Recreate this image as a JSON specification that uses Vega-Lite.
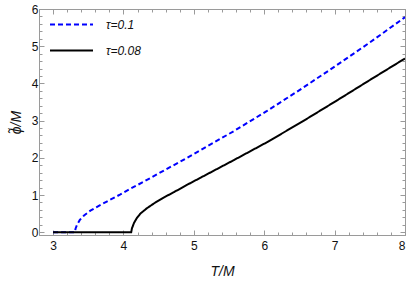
{
  "$schema": "https://vega.github.io/schema/vega-lite/v6.json",
  "width": 366,
  "height": 226,
  "autosize": {"type": "none"},
  "padding": {"left": 39, "top": 9, "right": 4, "bottom": 48},
  "config": {
    "view": {"stroke": "#9a9a9a", "strokeWidth": 1},
    "font": "Liberation Sans",
    "axis": {"domainColor": "#9a9a9a", "tickColor": "#9a9a9a", "labelColor": "#111", "labelFont": "Liberation Sans", "labelFontSize": 12, "grid": false, "labelOverlap": false, "titleFont": "Liberation Sans", "titleFontWeight": "normal", "titleFontStyle": "italic", "titleFontSize": 14, "titleColor": "#111"}
  },
  "data": {"values": [
    {"T": 3.0, "phi": 0, "s": "τ=0.1"},
    {"T": 3.31, "phi": 0, "s": "τ=0.1"},
    {"T": 3.32, "phi": 0.1, "s": "τ=0.1"},
    {"T": 3.34, "phi": 0.2, "s": "τ=0.1"},
    {"T": 3.38, "phi": 0.33, "s": "τ=0.1"},
    {"T": 3.44, "phi": 0.45, "s": "τ=0.1"},
    {"T": 3.53, "phi": 0.58, "s": "τ=0.1"},
    {"T": 3.65, "phi": 0.71, "s": "τ=0.1"},
    {"T": 3.77, "phi": 0.83, "s": "τ=0.1"},
    {"T": 3.95, "phi": 1.01, "s": "τ=0.1"},
    {"T": 4.1, "phi": 1.17, "s": "τ=0.1"},
    {"T": 4.3, "phi": 1.37, "s": "τ=0.1"},
    {"T": 4.48, "phi": 1.56, "s": "τ=0.1"},
    {"T": 4.81, "phi": 1.9, "s": "τ=0.1"},
    {"T": 5.1, "phi": 2.21, "s": "τ=0.1"},
    {"T": 5.57, "phi": 2.72, "s": "τ=0.1"},
    {"T": 6.04, "phi": 3.26, "s": "τ=0.1"},
    {"T": 6.5, "phi": 3.82, "s": "τ=0.1"},
    {"T": 7.0, "phi": 4.45, "s": "τ=0.1"},
    {"T": 7.5, "phi": 5.1, "s": "τ=0.1"},
    {"T": 8.0, "phi": 5.78, "s": "τ=0.1"},
    {"T": 3.0, "phi": 0, "s": "τ=0.08"},
    {"T": 4.11, "phi": 0, "s": "τ=0.08"},
    {"T": 4.12, "phi": 0.1, "s": "τ=0.08"},
    {"T": 4.15, "phi": 0.25, "s": "τ=0.08"},
    {"T": 4.19, "phi": 0.38, "s": "τ=0.08"},
    {"T": 4.24, "phi": 0.5, "s": "τ=0.08"},
    {"T": 4.33, "phi": 0.64, "s": "τ=0.08"},
    {"T": 4.43, "phi": 0.77, "s": "τ=0.08"},
    {"T": 4.57, "phi": 0.93, "s": "τ=0.08"},
    {"T": 4.72, "phi": 1.08, "s": "τ=0.08"},
    {"T": 4.9, "phi": 1.27, "s": "τ=0.08"},
    {"T": 5.1, "phi": 1.47, "s": "τ=0.08"},
    {"T": 5.57, "phi": 1.94, "s": "τ=0.08"},
    {"T": 6.04, "phi": 2.42, "s": "τ=0.08"},
    {"T": 6.52, "phi": 2.95, "s": "τ=0.08"},
    {"T": 7.04, "phi": 3.55, "s": "τ=0.08"},
    {"T": 7.5, "phi": 4.09, "s": "τ=0.08"},
    {"T": 8.0, "phi": 4.67, "s": "τ=0.08"}
  ]},
  "layer": [
    {
      "mark": {"type": "line", "strokeWidth": 2, "clip": true},
      "encoding": {
        "x": {"field": "T", "type": "quantitative", "scale": {"domain": [2.8, 8], "nice": false, "zero": false},
          "axis": {"orient": "bottom", "title": "T/M", "values": [3,3.2,3.4,3.6,3.8,4,4.2,4.4,4.6,4.8,5,5.2,5.4,5.6,5.8,6,6.2,6.4,6.6,6.8,7,7.2,7.4,7.6,7.8,8],
            "tickSize": {"condition": {"test": "abs(datum.value - round(datum.value)) < 0.01", "value": -5}, "value": -3},
            "labelExpr": "abs(datum.value - round(datum.value)) < 0.01 ? '' + round(datum.value) : ''",
            "labelPadding": 10, "titlePadding": 11}},
        "y": {"field": "phi", "type": "quantitative", "scale": {"domain": [-0.075, 6], "nice": false, "zero": false},
          "axis": {"orient": "left", "title": "ϕ̃/M", "values": [0,0.2,0.4,0.6,0.8,1,1.2,1.4,1.6,1.8,2,2.2,2.4,2.6,2.8,3,3.2,3.4,3.6,3.8,4,4.2,4.4,4.6,4.8,5,5.2,5.4,5.6,5.8,6],
            "tickSize": {"condition": {"test": "abs(datum.value - round(datum.value)) < 0.01", "value": -5}, "value": -3},
            "labelExpr": "abs(datum.value - round(datum.value)) < 0.01 ? '' + round(datum.value) : ''",
            "labelPadding": 6, "titlePadding": 8}},
        "color": {"field": "s", "type": "nominal", "scale": {"domain": ["τ=0.1", "τ=0.08"], "range": ["#0000ff", "#000000"]},
          "legend": {"title": null, "orient": "none", "legendX": 10, "legendY": 5, "symbolType": "stroke", "symbolSize": 1849, "symbolStrokeWidth": 2, "clipHeight": 21, "labelFontSize": 12, "labelFontStyle": "italic", "labelFont": "Liberation Sans", "labelColor": "#111", "labelOffset": 12, "rowPadding": 5, "padding": 0}},
        "strokeDash": {"field": "s", "type": "nominal", "scale": {"domain": ["τ=0.1", "τ=0.08"], "range": [[5, 3], [1, 0]]},
          "legend": {"title": null, "orient": "none", "legendX": 10, "legendY": 5, "symbolType": "stroke", "symbolSize": 1849, "symbolStrokeWidth": 2, "clipHeight": 21, "labelFontSize": 12, "labelFontStyle": "italic", "labelFont": "Liberation Sans", "labelColor": "#111", "labelOffset": 12, "rowPadding": 5, "padding": 0}}
      }
    },
    {
      "mark": {"type": "point", "opacity": 0},
      "encoding": {
        "x": {"field": "T", "type": "quantitative",
          "axis": {"orient": "top", "title": null, "labels": false, "values": [3,3.2,3.4,3.6,3.8,4,4.2,4.4,4.6,4.8,5,5.2,5.4,5.6,5.8,6,6.2,6.4,6.6,6.8,7,7.2,7.4,7.6,7.8,8],
            "tickSize": {"condition": {"test": "abs(datum.value - round(datum.value)) < 0.01", "value": -5}, "value": -3}}},
        "y": {"field": "phi", "type": "quantitative",
          "axis": {"orient": "right", "title": null, "labels": false, "values": [0,0.2,0.4,0.6,0.8,1,1.2,1.4,1.6,1.8,2,2.2,2.4,2.6,2.8,3,3.2,3.4,3.6,3.8,4,4.2,4.4,4.6,4.8,5,5.2,5.4,5.6,5.8,6],
            "tickSize": {"condition": {"test": "abs(datum.value - round(datum.value)) < 0.01", "value": -5}, "value": -3}}}
      }
    }
  ],
  "resolve": {"axis": {"x": "independent", "y": "independent"}}
}
